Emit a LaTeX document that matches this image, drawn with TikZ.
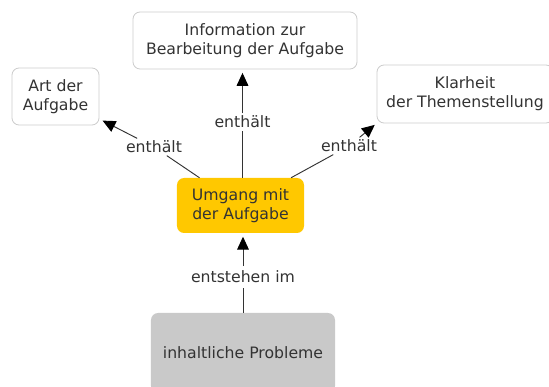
\documentclass[tikz,border=0pt]{standalone}
\usepackage{fontspec}
\setmainfont{DejaVu Sans}
\definecolor{mygold}{HTML}{FFC800}
\definecolor{mygray}{HTML}{C9C9C9}
\definecolor{myframe}{HTML}{CCCCCC}
\definecolor{mytext}{HTML}{333333}
\usetikzlibrary{arrows.meta}
\tikzset{
	concept/.style={rounded corners=6pt, align=center, font=\fontsize{13.4}{16.2}\selectfont\color{mytext}, inner sep=0pt}
}
\tikzset{
	whitebox/.style={concept, draw=myframe, line width=0.7pt, fill=white}
}
\tikzset{
	linktext/.style={font=\fontsize{13.4}{16.2}\selectfont\color{mytext}, inner sep=2pt}
}
\tikzset{
	link/.style={draw=mytext, line width=0.8pt},
	linkarrow/.style={link, -{Triangle[width=10pt,length=11pt,color=black]}}
}

\begin{document}
\begin{tikzpicture}[x=0.03cm, y=0.03cm]
      \useasboundingbox (0,0) rectangle (549,387);
      % concepts
      \node[concept, fill=mygold, minimum width=3.81cm, minimum height=1.65cm] (umgang) at (240.5,181.5) {Umgang mit\\der Aufgabe};
      \node[whitebox, minimum width=6.72cm, minimum height=1.71cm] (info) at (245,346.5) {Information zur\\Bearbeitung der Aufgabe};
      \node[whitebox, minimum width=2.61cm, minimum height=1.71cm] (art) at (55.5,290.5) {Art der\\Aufgabe};
      \node[whitebox, minimum width=5.28cm, minimum height=1.74cm] (klar) at (465,293) {Klarheit\\der Themenstellung};
      \node[concept, fill=mygray, minimum width=5.52cm, minimum height=2.4cm] (probl) at (243,34) {inhaltliche Probleme};
      % link labels
      \node[linktext] (lart) at (154,240) {enthält};
      \node[linktext] (linfo) at (242.5,265) {enthält};
      \node[linktext] (lklar) at (349,241) {enthält};
      \node[linktext, inner sep=4pt] (lprobl) at (243,110) {entstehen im};
      % links
      \draw[link] (umgang) -- (lart);
      \draw[linkarrow, shorten >=3pt] (lart) -- (art);
      \draw[link] (umgang.north -| linfo) -- (linfo);
      \draw[linkarrow, shorten >=3pt] (linfo) -- (info.south -| linfo);
      \draw[link] (umgang) -- (lklar);
      \draw[linkarrow, shorten >=2pt] (lklar) -- (klar.south west);
      \draw[link] (probl.north -| lprobl) -- (lprobl);
      \draw[linkarrow, shorten >=3pt] (lprobl) -- (umgang.south -| lprobl);
\end{tikzpicture}
\end{document}
